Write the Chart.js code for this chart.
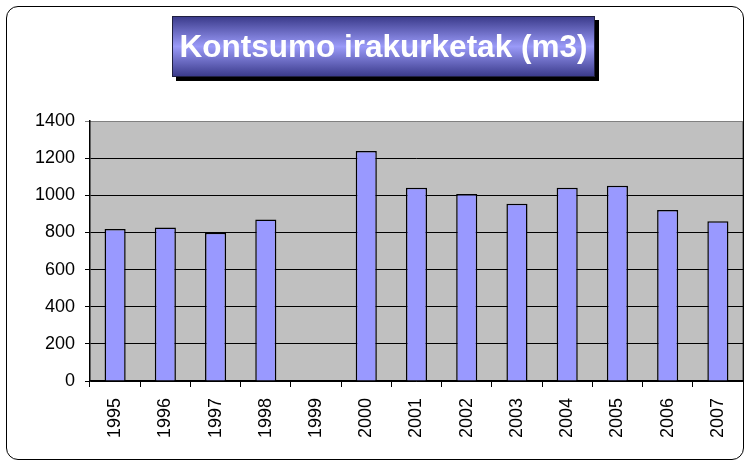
<!DOCTYPE html>
<html>
<head>
<meta charset="utf-8">
<script src="https://cdn.jsdelivr.net/npm/chart.js@4"></script>
<style>
  html, body { margin: 0; padding: 0; background: #fff; }
  #wrap { position: relative; width: 751px; height: 464px; }
  #frame {
    position: absolute; left: 6px; top: 6px; width: 738px; height: 454px;
    border: 1px solid #000; border-radius: 12px; box-sizing: border-box;
  }
  #title {
    position: absolute; left: 172px; top: 16px; width: 423px; height: 61px;
    box-sizing: border-box; border: 1px solid #202040;
    background: linear-gradient(to bottom, #3c3c8c 0%, #9a9af8 50%, #3c3c8c 100%);
    box-shadow: 4px 4px 0 #000;
    color: #fff; font: bold 31.5px "Liberation Sans", Arial, sans-serif;
    line-height: 59px; text-align: center; white-space: nowrap;
  }
  canvas { position: absolute; left: 0; top: 0; }
</style>
</head>
<body>
<div id="wrap">
  <div id="frame"></div>
  <canvas id="c" width="751" height="464"></canvas>
  <div id="title">Kontsumo irakurketak (m3)</div>
</div>
<script>
// Kontsumo irakurketak (m3) - urtez urte
const years = ['1995', '1996', '1997', '1998', '1999', '2000', '2001', '2002', '2003', '2004', '2005', '2006', '2007'];
const consumption = [818, 827, 798, 870, null, 1238, 1041, 1007, 955, 1041, 1052, 921, 860];
const yTicks = [0, 200, 400, 600, 800, 1000, 1200, 1400];

// grey plot area with a thin darker frame, like the old Excel charts
const plotBackground = {
    id: 'plotBackground',
    beforeDraw(chart) {
        const a = chart.chartArea;
        const ctx = chart.ctx;
        ctx.save();
        ctx.fillStyle = '#c0c0c0';
        ctx.fillRect(a.left, a.top, a.right - a.left, a.bottom - a.top);
        ctx.strokeStyle = '#808080';
        ctx.lineWidth = 1;
        ctx.beginPath();
        ctx.moveTo(a.left, a.top + 0.5);
        ctx.lineTo(a.right - 0.5, a.top + 0.5);
        ctx.lineTo(a.right - 0.5, a.bottom);
        ctx.stroke();
        ctx.restore();
    }
};

new Chart(document.getElementById('c'), {
    type: 'bar',
    data: {
        labels: years,
        datasets: [{
            label: 'Kontsumoa',
            data: consumption,
            backgroundColor: '#9999ff',
            borderColor: '#000',
            borderWidth: 1.5,
            categoryPercentage: 1,
            barPercentage: 0.42
        }]
    },
    options: {
        responsive: false,
        animation: false,
        events: [],
        layout: { padding: { top: 121, right: 8, left: 0, bottom: 0 } },
        plugins: {
            legend: { display: false },
            title: { display: false },
            tooltip: { enabled: false }
        },
        scales: {
            x: {
                offset: true,
                afterFit: s => { s.height = 83; },
                grid: {
                    offset: true,
                    drawOnChartArea: false,
                    color: '#000',
                    tickLength: 6
                },
                border: { color: '#000', width: 1.5 },
                ticks: {
                    color: '#000',
                    minRotation: 90,
                    maxRotation: 90,
                    padding: 11,
                    font: { family: '"Liberation Sans", Arial, sans-serif', size: 18 }
                }
            },
            y: {
                min: 0,
                max: 1400,
                afterFit: s => { s.width = 90; },
                afterBuildTicks: s => { s.ticks = yTicks.map(v => ({ value: v })); },
                grid: {
                    color: ctx => ctx.tick && ctx.tick.value === 1400 ? '#808080' : '#000',
                    tickLength: 5
                },
                border: { color: '#000', width: 1.5 },
                ticks: {
                    color: '#000',
                    padding: 10,
                    callback: v => String(v),
                    font: { family: '"Liberation Sans", Arial, sans-serif', size: 18 }
                }
            }
        }
    },
    plugins: [plotBackground]
});
</script>
</body>
</html>
